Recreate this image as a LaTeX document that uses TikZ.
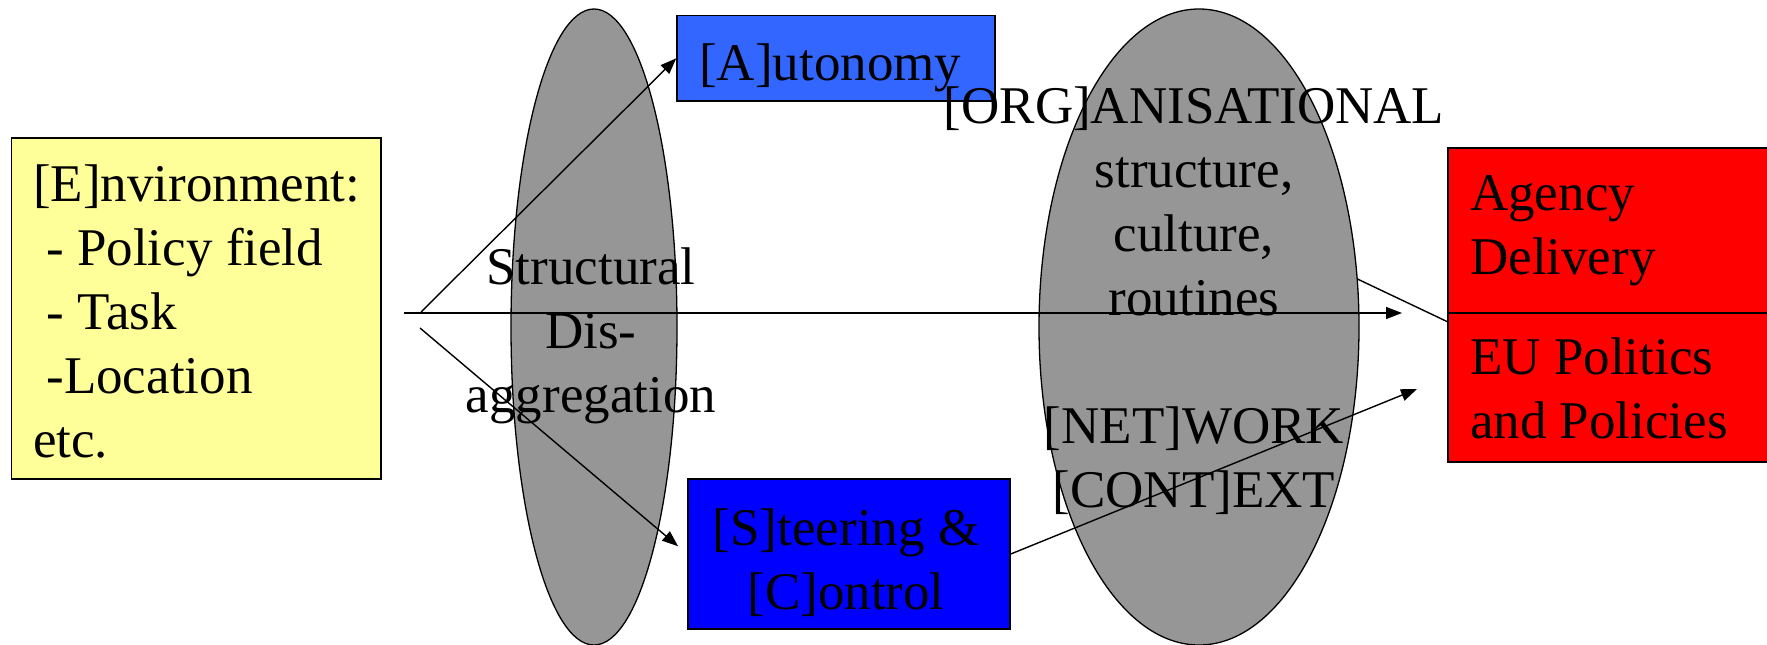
\documentclass[tikz,border=0pt]{standalone}
\usepackage{fontspec}
\setmainfont{Liberation Serif}
\usetikzlibrary{shapes.geometric,arrows.meta}
\definecolor{envyellow}{HTML}{FFFF99}
\definecolor{autblue}{HTML}{3366FF}
\definecolor{steblue}{HTML}{0000FF}
\definecolor{redbox}{HTML}{FF0000}
\definecolor{ellgray}{HTML}{969696}
\tikzset{
  every node/.style={font=\fontsize{53}{64}\selectfont},
  box/.style={draw=black, line width=1.5pt, inner sep=0pt, rectangle},
  ellnode/.style={draw=black, line width=1.3pt, fill=ellgray, ellipse, inner sep=0pt},
  txt/.style={inner sep=0pt},
  arr/.style={line width=1.4pt, -{Triangle[length=16pt,width=12pt]}},
  plain/.style={line width=1.4pt},
}
\begin{document}
\begin{tikzpicture}[x=1pt,y=-1pt]
\useasboundingbox (0,0) rectangle (1767,645);
\clip (0,0) rectangle (1767,645);
% hidden line behind the right ellipse
\coordinate (hid) at (1290,247);
\coordinate (rb) at (1448,322);
\draw[plain] (hid) -- (rb);
% ellipses
\node[ellnode, minimum width=166pt, minimum height=636pt] (ell1) at (594,327) {};
\node[ellnode, minimum width=320pt, minimum height=636pt] (ell2) at (1199,327) {};
% boxes
\node[box, fill=envyellow, minimum width=369.5pt, minimum height=341pt] (env) at (196.25,308.5) {};
\node[box, fill=autblue, minimum width=318pt, minimum height=85.4pt] (aut) at (836,58.3) {};
\node[box, fill=steblue, minimum width=322pt, minimum height=150pt] (ste) at (849,554) {};
\node[box, fill=redbox, minimum width=342pt, minimum height=165pt] (agency) at (1619,230.5) {};
\node[box, fill=redbox, minimum width=342pt, minimum height=149pt] (eupol) at (1619,387.5) {};
% connectors
\coordinate (hs) at (404,313);
\coordinate (he) at (1402,313);
\coordinate (us) at (421,312);
\coordinate (ls) at (420,328);
\coordinate (ne) at (1417,389);
\draw[arr] (hs) -- (he);
\draw[arr] (us) -- (aut.west);
\draw[arr, shorten >=12pt] (ls) -- (ste.west);
\draw[arr] (ste.east) -- (ne);
% texts
\node[txt, anchor=base west] (envtext) at (33,201) {\begin{tabular}[t]{@{}l@{}}[E]nvironment:\\ \hspace*{0.25em}- Policy field\\ \hspace*{0.25em}- Task\\ \hspace*{0.25em}-Location\\ etc.\end{tabular}};
\node[txt, anchor=base west] (auttext) at (699,80) {[A]utonomy};
\node[txt, anchor=base] (sdtext) at (591,284) {\begin{tabular}[t]{@{}c@{}}Structural\\ Dis-\\ aggregation\end{tabular}};
\node[txt, anchor=base] (stetext) at (846,545) {\begin{tabular}[t]{@{}c@{}}[S]teering \&\\ {}[C]ontrol\end{tabular}};
\node[txt, anchor=base] (orgtext) at (1194,123) {\begin{tabular}[t]{@{}c@{}}[ORG]ANISATIONAL\\ structure,\\ culture,\\ routines\\ \\ {}[NET]WORK\\ {}[CONT]EXT\end{tabular}};
\node[txt, anchor=base west] (agtext) at (1470,210) {\begin{tabular}[t]{@{}l@{}}Agency\\ Delivery\end{tabular}};
\node[txt, anchor=base west] (eutext) at (1470,374) {\begin{tabular}[t]{@{}l@{}}EU Politics\\ and Policies\end{tabular}};
\end{tikzpicture}
\end{document}
